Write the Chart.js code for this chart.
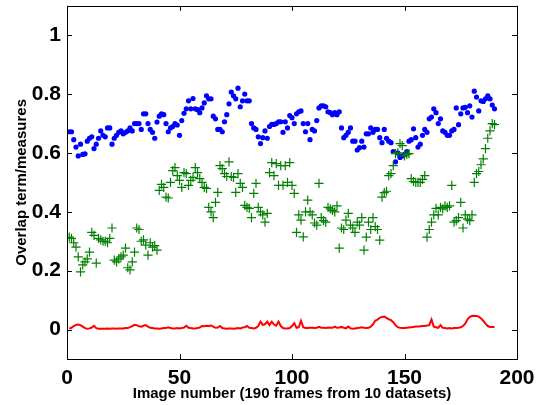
<!DOCTYPE html>
<html><head><meta charset="utf-8">
<script src="https://cdn.jsdelivr.net/npm/chart.js@4/dist/chart.umd.min.js"></script>
<style>html,body{margin:0;padding:0;background:#fff}</style>
</head><body>
<canvas id="c" width="548" height="405"></canvas>
<script>
const frames = Array.from({length:190},(_,i)=>i+1);
const xTicks = [0,50,100,150,200];
const yTicks = [0,0.2,0.4,0.6,0.8,1];
const blueVals = [
.672,.672,.645,.62,.59,.63,.595,.597,.64,.65,
.655,.615,.63,.65,.675,.66,.655,.685,.685,.63,
.65,.66,.67,.675,.665,.67,.675,.685,.675,.70,
.70,.70,.68,.733,.733,.70,.68,.67,.65,.705,
.725,.733,.73,.70,.672,.685,.69,.70,
.695,.66,.71,.735,.75,.777,.75,.785,.75,.747,
.737,.753,.77,.794,.784,.784,.725,.716,.68,.68,
.672,.706,.73,.767,.807,.794,.784,.82,.757,.777,
.80,.777,.777,.70,.685,.68,.655,.632,.652,.675,
.65,.69,.697,.697,.70,.706,.706,.67,.706,.685,
.727,.72,.70,.733,.74,.743,.70,.672,.70,.645,
.68,.675,.71,.753,.76,.76,.757,.74,.737,.73,
.737,.73,.74,.685,.652,.66,.67,.685,.64,.64,
.61,.618,.64,.62,.665,.665,.685,.67,.68,.68,
.652,.635,.68,.65,.64,.635,.605,.57,.60,
.585,.59,.595,.605,.64,.645,.682,.652,.62,.63,
.66,.68,.67,.716,.722,.75,.737,.70,.716,.675,
.67,.66,.66,.675,.68,.753,.696,.733,.753,.755,
.737,.76,.722,.81,.79,.743,.777,.775,.784,.794,
.784,.763,.75
];
const greenVals = [
.314,.31,.295,.28,.247,.196,.22,.23,.24,.263,
.33,.32,.226,.31,.305,.30,.30,.295,.31,.345,
.236,.23,.24,.247,.253,.277,.21,.203,.23,.263,
.345,.34,.30,.305,.287,.253,.295,.28,.285,.27,
.473,.493,.483,.45,.447,.50,.54,.55,.523,.507,
.483,.533,.53,.49,.507,.517,.55,.533,.513,.50,
.483,.48,.415,.40,.38,.432,.466,.557,.547,.53,
.52,.57,.52,.517,.466,.53,.497,.483,.422,.415,
.412,.38,.463,.497,.415,.40,.39,.365,.395,.533,
.567,.523,.564,.49,.557,.49,.557,.50,.567,.49,
.463,.33,.39,.372,.315,.40,.44,.40,.39,.362,
.355,.497,.38,.37,.365,.415,.41,.405,.40,.42,
.277,.345,.34,.372,.395,.355,.345,.33,.365,.355,
.38,.27,.314,.365,.34,.38,.35,.34,.304,.45,
.465,.47,.523,.53,.557,.598,.60,.632,.625,.59,
.595,.598,.513,.503,.50,.50,.50,.51,.523,.314,
.34,.365,.39,.412,.39,.415,.41,.42,.415,.42,
.49,.365,.37,.38,.432,.345,.39,.375,.37,.39,
.50,.53,.537,.56,.58,.615,.65,.675,.70,.696
];
const redVals = [
.003,.006,.012,.016,.017,.015,.01,.005,.003,.004,
.007,.013,.005,.003,.003,.003,.003,.004,.003,.004,
.004,.003,.004,.004,.004,.005,.005,.008,.012,.016,
.015,.011,.01,.013,.015,.01,.006,.005,.004,.004,
.003,.004,.005,.005,.008,.005,.004,.004,.005,.004,
.005,.007,.013,.006,.005,.004,.004,.005,.007,.012,
.011,.013,.012,.014,.01,.006,.007,.012,.005,.004,
.003,.004,.004,.003,.004,.005,.004,.007,.008,.012,
.006,.005,.004,.006,.012,.027,.016,.018,.027,.015,
.027,.017,.013,.027,.012,.005,.004,.004,.005,.012,
.022,.006,.008,.03,.008,.005,.005,.006,.006,.005,
.006,.009,.006,.006,.005,.007,.006,.006,.01,.006,
.007,.009,.006,.004,.01,.004,.003,.004,.005,.006,
.008,.006,.005,.006,.01,.018,.03,.034,.04,.043,
.044,.04,.035,.032,.025,.015,.008,.006,.005,.005,
.006,.007,.008,.009,.01,.01,.011,.012,.012,.014,
.015,.034,.01,.008,.006,.015,.006,.005,.004,.005,
.004,.005,.005,.006,.008,.012,.02,.035,.043,.046,
.047,.046,.044,.038,.03,.02,.012,.009,.009,.009
];
const xTitle = 'Image number (190 frames from 10 datasets)';
const yTitle = 'Overlap term/measures';

const pts = vals => frames.map((f,i)=>({x:f,y:vals[i]}));
const FONT = 'Liberation Sans, Arial, Helvetica, sans-serif';

const boxPlugin = {
  id:'box',
  afterDatasetsDraw(chart){
    const {ctx, chartArea:a, scales:{x,y}} = chart;
    ctx.save();
    ctx.strokeStyle='#000'; ctx.lineWidth=1;
    ctx.strokeRect(Math.round(a.left)+0.5, Math.round(a.top)+0.5, Math.round(a.right-a.left), Math.round(a.bottom-a.top));
    ctx.beginPath();
    const L=5;
    xTicks.forEach(v=>{const px=Math.round(x.getPixelForValue(v))+0.5;
      ctx.moveTo(px,a.bottom); ctx.lineTo(px,a.bottom-L);
      ctx.moveTo(px,a.top); ctx.lineTo(px,a.top+L);});
    yTicks.forEach(v=>{const py=Math.round(y.getPixelForValue(v))+0.5;
      ctx.moveTo(a.left,py); ctx.lineTo(a.left+L,py);
      ctx.moveTo(a.right,py); ctx.lineTo(a.right-L,py);});
    ctx.stroke();
    ctx.restore();
  }
};

new Chart(document.getElementById('c'), {
  type:'scatter',
  data:{datasets:[
    {label:'blue', data:pts(blueVals), backgroundColor:'#0000ff', borderColor:'#0000ff', pointRadius:2.6, pointStyle:'circle', borderWidth:0, order:2},
    {label:'green', data:pts(greenVals), borderColor:'#008000', backgroundColor:'#008000', pointRadius:4.6, pointStyle:'cross', borderWidth:1.2, order:1},
    {label:'red', data:pts(redVals), showLine:true, borderColor:'#ff0000', backgroundColor:'#ff0000', borderWidth:2, pointRadius:0, order:3}
  ]},
  options:{
    responsive:false, animation:false, devicePixelRatio:1,
    layout:{padding:{top:4,right:31,left:0,bottom:0}},
    plugins:{legend:{display:false}, tooltip:{enabled:false}},
    scales:{
      x:{type:'linear', min:0, max:200,
        afterBuildTicks:s=>{s.ticks=xTicks.map(v=>({value:v}));},
        afterFit:s=>{s.height=46; s.paddingLeft=0; s.paddingRight=0;},
        grid:{display:false, drawTicks:false}, border:{display:false},
        ticks:{color:'#000', font:{family:FONT, size:21, weight:'bold'}, padding:7, maxRotation:0},
        title:{display:true, text:xTitle, color:'#000', font:{family:FONT, size:15, weight:'bold'}, padding:{top:0,bottom:2}}
      },
      y:{type:'linear', min:-0.1, max:1.1,
        afterBuildTicks:s=>{s.ticks=yTicks.map(v=>({value:v}));},
        afterFit:s=>{s.width=67; s.paddingTop=0; s.paddingBottom=0;},
        grid:{display:false, drawTicks:false}, border:{display:false},
        ticks:{color:'#000', font:{family:FONT, size:21, weight:'bold'}, padding:6,
          callback:v=>String(Math.round(v*10)/10)},
        title:{display:true, text:yTitle, color:'#000', font:{family:FONT, size:15, weight:'bold'}, padding:{top:13,bottom:0}}
      }
    }
  },
  plugins:[boxPlugin]
});
</script>
</body></html>
